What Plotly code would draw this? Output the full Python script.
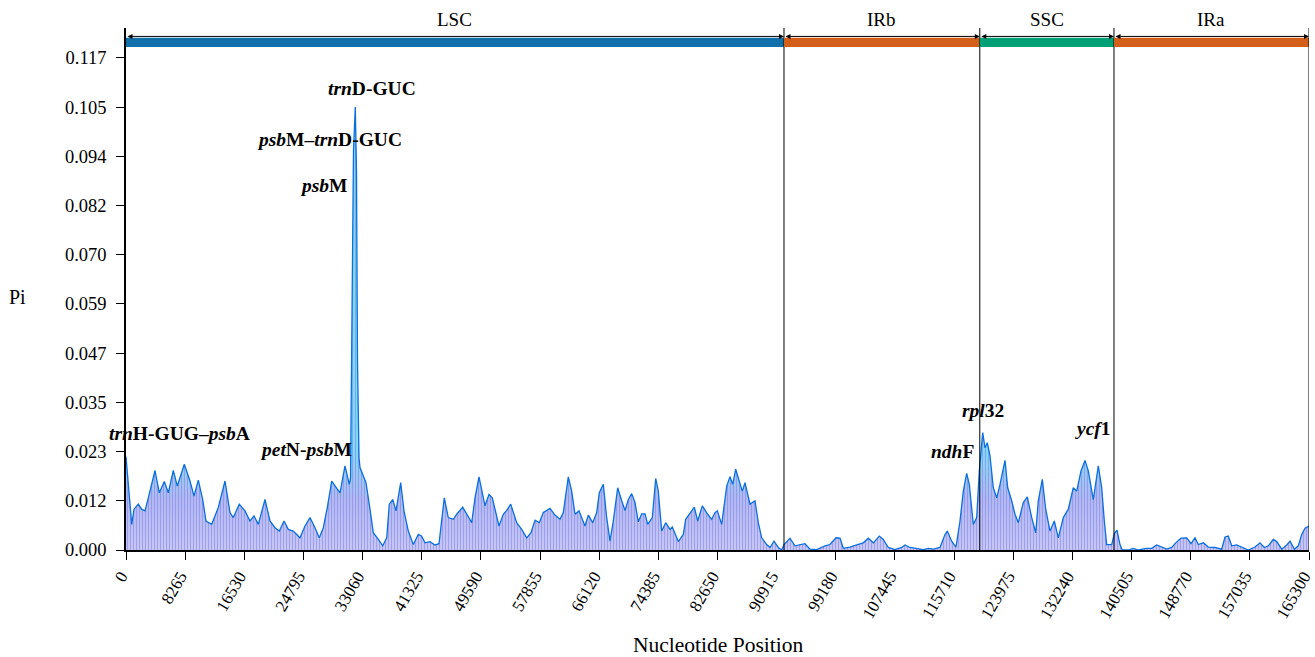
import plotly.graph_objects as go

# ---------------- data ----------------
position = [0, 796, 1118, 1719, 2194, 2655, 3116, 4052, 4653, 5352, 5911, 6609, 7168, 8146, 8943,
            9502, 10102, 10717, 11178, 11975, 12897, 13833, 14532, 14993, 15831, 16628, 17327, 17885,
            18486, 19422, 20121, 20820, 21421, 22077, 22678, 23377, 23852, 24313, 25012, 25710, 26409,
            27010, 27569, 28128, 28743, 29343, 29902, 30601, 31202, 31369, 31579, 31789, 32040, 32208,
            32347, 32557, 32697, 33535, 34094, 34555, 35254, 35869, 36428, 36791, 37266, 37727, 38384,
            38845, 39446, 40145, 40843, 41318, 41779, 42478, 43177, 43735, 44476, 45035, 45734, 46209,
            47047, 47830, 48305, 48766, 49325, 50163, 50722, 51183, 51658, 52119, 52720, 53194, 53754,
            54592, 55291, 55990, 56591, 57150, 57750, 58309, 59246, 59944, 60643, 61104, 61803, 62278,
            62739, 63298, 64136, 64597, 65212, 65771, 66135, 66693, 67168, 67629, 68090, 68705, 69264,
            69725, 70187, 70661, 71122, 71584, 72058, 72519, 72897, 73540, 74015, 74378, 74853, 75412,
            76013, 76334, 77173, 77873, 78207, 78808, 79409, 79884, 80527, 81281, 81840, 82301, 82623,
            83237, 83936, 84397, 84774, 85193, 85794, 86115, 86493, 87191, 87890, 88351, 88826, 89525,
            89986, 90545, 91146, 91623, 91942, 92781, 93479, 94178, 94877, 95575, 96512, 97671, 98370,
            99208, 99767, 100228, 101164, 102101, 103023, 103722, 104420, 105259, 105818, 106516,
            107452, 108389, 108850, 109548, 110708, 111407, 112105, 112804, 113740, 114439, 114760,
            115375, 115976, 116535, 116996, 117471, 117834, 118393, 118868, 119231, 119707, 120028,
            120350, 120727, 121188, 121665, 122124, 122823, 123198, 123759, 124220, 124682, 125380,
            125939, 126554, 127112, 127476, 128035, 128510, 129111, 129712, 130270, 130969, 131668,
            132366, 132841, 133442, 134001, 134462, 135161, 135860, 136335, 136699, 137033, 137732,
            138095, 138472, 138892, 139213, 140051, 140750, 141449, 142622, 143321, 144020, 144621,
            145417, 146116, 146675, 147415, 148212, 148812, 149371, 149833, 150532, 151230, 152166,
            153102, 153564, 154025, 154499, 155198, 155897, 156820, 157756, 158454, 159056, 159616,
            160313, 160787, 161490, 162187, 162646, 163251, 163810, 164280, 164741, 165300]

pi = [0.0222, 0.0061, 0.0097, 0.0109, 0.0097, 0.0093, 0.0124, 0.0189, 0.0136, 0.0163, 0.0136, 0.0189,
      0.0152, 0.0204, 0.0164, 0.0128, 0.0166, 0.0120, 0.0069, 0.0061, 0.0101, 0.0164, 0.0089, 0.0077,
      0.0109, 0.0093, 0.0069, 0.0081, 0.0061, 0.0120, 0.0069, 0.0053, 0.0045, 0.0069, 0.0049, 0.0045,
      0.0037, 0.0029, 0.0057, 0.0077, 0.0053, 0.0029, 0.0053, 0.0101, 0.0164, 0.0148, 0.0136, 0.0200,
      0.0156, 0.0170, 0.0600, 0.0950, 0.1053, 0.0900, 0.0450, 0.0220, 0.0196, 0.0160, 0.0097, 0.0041,
      0.0025, 0.0010, 0.0029, 0.0109, 0.0120, 0.0093, 0.0160, 0.0093, 0.0045, 0.0013, 0.0037, 0.0033,
      0.0017, 0.0020, 0.0012, 0.0015, 0.0124, 0.0077, 0.0073, 0.0085, 0.0102, 0.0081, 0.0065, 0.0124,
      0.0174, 0.0105, 0.0132, 0.0124, 0.0089, 0.0057, 0.0085, 0.0094, 0.0109, 0.0065, 0.0049, 0.0029,
      0.0041, 0.0071, 0.0065, 0.0089, 0.0099, 0.0083, 0.0073, 0.0089, 0.0174, 0.0140, 0.0085, 0.0093,
      0.0057, 0.0083, 0.0065, 0.0089, 0.0136, 0.0156, 0.0077, 0.0021, 0.0069, 0.0148, 0.0117, 0.0094,
      0.0120, 0.0134, 0.0113, 0.0067, 0.0086, 0.0086, 0.0061, 0.0077, 0.0170, 0.0140, 0.0045, 0.0065,
      0.0049, 0.0055, 0.0020, 0.0037, 0.0073, 0.0089, 0.0102, 0.0069, 0.0105, 0.0085, 0.0073, 0.0089,
      0.0093, 0.0061, 0.0152, 0.0174, 0.0156, 0.0192, 0.0156, 0.0140, 0.0160, 0.0109, 0.0117, 0.0065,
      0.0029, 0.0013, 0.0006, 0.0021, 0.0006, 0.0000, 0.0013, 0.0028, 0.0010, 0.0012, 0.0015, 0.0002,
      0.0001, 0.0010, 0.0013, 0.0029, 0.0028, 0.0004, 0.0007, 0.0012, 0.0017, 0.0028, 0.0017, 0.0033,
      0.0025, 0.0006, 0.0001, 0.0006, 0.0012, 0.0006, 0.0002, 0.0001, 0.0004, 0.0002, 0.0006, 0.0037,
      0.0045, 0.0021, 0.0007, 0.0069, 0.0140, 0.0182, 0.0156, 0.0061, 0.0077, 0.0188, 0.0279, 0.0243,
      0.0255, 0.0224, 0.0148, 0.0124, 0.0156, 0.0213, 0.0148, 0.0117, 0.0085, 0.0065, 0.0113, 0.0126,
      0.0077, 0.0041, 0.0117, 0.0168, 0.0097, 0.0045, 0.0069, 0.0029, 0.0077, 0.0097, 0.0148, 0.0140,
      0.0188, 0.0213, 0.0188, 0.0120, 0.0200, 0.0148, 0.0069, 0.0013, 0.0013, 0.0039, 0.0047, 0.0013,
      0.0000, 0.0000, 0.0004, 0.0000, 0.0004, 0.0004, 0.0012, 0.0007, 0.0002, 0.0006, 0.0017, 0.0028,
      0.0029, 0.0015, 0.0029, 0.0013, 0.0017, 0.0007, 0.0006, 0.0002, 0.0031, 0.0033, 0.0010, 0.0012,
      0.0006, 0.0000, 0.0007, 0.0017, 0.0006, 0.0010, 0.0025, 0.0020, 0.0002, 0.0012, 0.0021, 0.0002,
      0.0010, 0.0037, 0.0052, 0.0057]

region_names = ["LSC", "IRb", "SSC", "IRa"]
region_start = [0, 91940, 119300, 138050]
region_end = [91940, 119300, 138050, 165300]
region_colors = ["#1170AA", "#D2601A", "#00A077", "#D2601A"]

ytick_vals = [0.0, 0.0117, 0.0234, 0.0351, 0.0468, 0.0585, 0.0702, 0.0819, 0.0936, 0.1053, 0.117]
ytick_text = ["0.000", "0.012", "0.023", "0.035", "0.047", "0.059", "0.070", "0.082", "0.094",
              "0.105", "0.117"]
xtick_vals = [0, 8265, 16530, 24795, 33060, 41325, 49590, 57855, 66120, 74385, 82650, 90915,
              99180, 107445, 115710, 123975, 132240, 140505, 148770, 157035, 165300]

gene_labels = ["<i>trn</i>D-GUC", "<i>psb</i>M–<i>trn</i>D-GUC", "<i>psb</i>M",
               "<i>trn</i>H-GUG–<i>psb</i>A", "<i>pet</i>N-<i>psb</i>M", "<i>rpl</i>32",
               "<i>ndh</i>F", "<i>ycf</i>1"]
gene_x = [34374, 28366, 27667, 7406, 25151, 119750, 115417, 135119]
gene_y = [0.1096, 0.0977, 0.0866, 0.0276, 0.0238, 0.0331, 0.0233, 0.0288]

FONT = "Liberation Serif, Times New Roman, serif"
Y_MAX = 0.1241
BAR_LO, BAR_HI, ARROW_Y = 0.1196, 0.1218, 0.1221

# ---------------- figure ----------------
fig = go.Figure()

fig.add_trace(go.Scatter(
    x=position, y=pi, mode="lines", fill="tozeroy",
    line=dict(color="rgba(0,0,0,0)", width=0),
    fillgradient=dict(type="vertical", start=0, stop=0.024,
                      colorscale=[[0, "#c6c6f6"], [0.5, "#b2b8f3"], [1, "#80d8f4"]]),
    hoverinfo="skip", showlegend=False))

fig.add_trace(go.Scatter(
    x=position, y=pi, mode="lines", fill="tozeroy",
    fillcolor="rgba(0,0,0,0)",
    fillpattern=dict(shape="|", fgcolor="#7474e2", bgcolor="rgba(0,0,0,0)",
                     size=3, solidity=0.3, fillmode="overlay"),
    line=dict(color="#0b6fdc", width=1.3),
    showlegend=False))

shapes = []
annotations = []
for name, s, e, c in zip(region_names, region_start, region_end, region_colors):
    shapes.append(dict(type="rect", xref="x", yref="y", x0=s, x1=e, y0=BAR_LO, y1=BAR_HI,
                       fillcolor=c, line=dict(width=0), layer="above"))
    shapes.append(dict(type="line", xref="x", yref="paper", x0=e, x1=e, y0=0, y1=1,
                       line=dict(color="black", width=1), layer="above"))
    annotations.append(dict(x=e, y=ARROW_Y, ax=s, ay=ARROW_Y, xref="x", yref="y",
                            axref="x", ayref="y", text="", showarrow=True,
                            arrowhead=2, startarrowhead=2, arrowside="end+start",
                            arrowsize=1, arrowwidth=1, arrowcolor="black"))
    annotations.append(dict(x=(s + e) / 2, y=1.016, xref="x", yref="paper", text=name,
                            showarrow=False, yanchor="middle", xanchor="center",
                            font=dict(family=FONT, size=19, color="black")))

for t, gx, gy in zip(gene_labels, gene_x, gene_y):
    annotations.append(dict(x=gx, y=gy, xref="x", yref="y", text="<b>" + t + "</b>",
                            showarrow=False, xanchor="center", yanchor="middle",
                            font=dict(family=FONT, size=19.5, color="black")))

annotations.append(dict(x=-0.0913, y=0.485, xref="paper", yref="paper", text="Pi",
                        showarrow=False, xanchor="center", yanchor="middle",
                        font=dict(family=FONT, size=20, color="black")))
annotations.append(dict(x=0.5, y=-0.182, xref="paper", yref="paper", text="Nucleotide Position",
                        showarrow=False, xanchor="center", yanchor="middle",
                        font=dict(family=FONT, size=21.5, color="black")))

fig.update_layout(
    width=1315, height=657,
    margin=dict(l=126, r=6, t=28, b=107, autoexpand=False),
    paper_bgcolor="white", plot_bgcolor="white",
    shapes=shapes, annotations=annotations,
    font=dict(family=FONT, size=17, color="black"),
    xaxis=dict(range=[0, 165300], tickmode="array", tickvals=xtick_vals,
               ticktext=[str(v) for v in xtick_vals], tickangle=-60,
               ticklabeloverflow="allow", automargin=False, ticklabelshift=-5,
               showgrid=False, zeroline=False, showline=True, linecolor="black", linewidth=1.5,
               ticks="outside", ticklen=8, tickcolor="black", tickwidth=1.2,
               tickfont=dict(family=FONT, size=17, color="black")),
    yaxis=dict(range=[0, Y_MAX], tickmode="array", tickvals=ytick_vals, ticktext=ytick_text,
               ticklabelstandoff=6, automargin=False,
               showgrid=False, zeroline=False, showline=True, linecolor="black", linewidth=1.5,
               ticks="outside", ticklen=8, tickcolor="black", tickwidth=1.2,
               tickfont=dict(family=FONT, size=18.5, color="black")),
)

fig.write_html("out.html")
